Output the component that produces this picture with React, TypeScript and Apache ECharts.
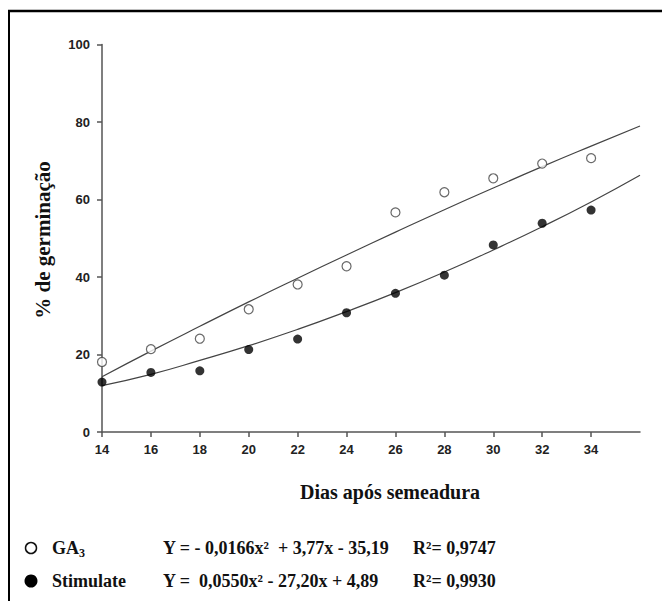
import React, { useEffect, useRef } from "react";
import * as echarts from "echarts";

const days = [14, 16, 18, 20, 22, 24, 26, 28, 30, 32, 34];
const ga3Values = [18.1, 21.4, 24.1, 31.7, 38.1, 42.8, 56.7, 61.9, 65.5, 69.3, 70.7];
const stimulateValues = [12.9, 15.4, 15.8, 21.3, 24.0, 30.8, 35.8, 40.5, 48.3, 53.9, 57.3];

const fitDays = [14, 16, 18, 20, 22, 24, 26, 28, 30, 32, 34, 36];
const ga3Fit = [14.3, 20.9, 27.3, 33.6, 39.7, 45.7, 51.6, 57.4, 63.0, 68.5, 73.8, 79.0];
const stimulateFit = [12.0, 14.9, 18.5, 22.3, 26.5, 31.1, 36.0, 41.3, 47.0, 53.0, 59.4, 66.3];

const xTicks = [14, 16, 18, 20, 22, 24, 26, 28, 30, 32, 34];

const serif = '"Liberation Serif", "Times New Roman", serif';
const sans = '"Liberation Sans", Arial, sans-serif';

export default function App() {
  const ref = useRef<HTMLDivElement>(null);
  useEffect(() => {
    if (!ref.current) return;
    const chart = echarts.init(ref.current, null, { renderer: "svg" });
    const axisColor = "#555";
    const legendFont = `bold 18px ${serif}`;
    chart.setOption({
      animation: false,
      backgroundColor: "#fff",
      grid: { left: 102, top: 44.6, width: 538, height: 387.5 },
      xAxis: {
        type: "value",
        min: 14,
        max: 36,
        interval: 2,
        splitLine: { show: false },
        axisLine: { lineStyle: { color: axisColor, width: 1.5 } },
        axisTick: { length: 5, customValues: xTicks, lineStyle: { color: axisColor, width: 1.5 } },
        axisLabel: {
          customValues: xTicks,
          margin: 11,
          fontFamily: sans,
          fontWeight: "bold",
          fontSize: 13,
          color: "#222",
        },
      },
      yAxis: {
        type: "value",
        min: 0,
        max: 100,
        interval: 20,
        splitLine: { show: false },
        axisLine: { show: true, lineStyle: { color: axisColor, width: 1.5 } },
        axisTick: { show: true, length: 5, lineStyle: { color: axisColor, width: 1.5 } },
        axisLabel: {
          margin: 12,
          fontFamily: sans,
          fontWeight: "bold",
          fontSize: 13,
          color: "#222",
        },
      },
      series: [
        {
          type: "line",
          data: fitDays.map((d, i) => [d, ga3Fit[i]]),
          smooth: true,
          showSymbol: false,
          lineStyle: { color: "#444", width: 1.2 },
          z: 1,
        },
        {
          type: "line",
          data: fitDays.map((d, i) => [d, stimulateFit[i]]),
          smooth: true,
          showSymbol: false,
          lineStyle: { color: "#444", width: 1.2 },
          z: 1,
        },
        {
          type: "scatter",
          data: days.map((d, i) => [d, ga3Values[i]]),
          symbol: "circle",
          symbolSize: 9,
          itemStyle: { color: "#fff", borderColor: "#444", borderWidth: 1.2 },
          z: 3,
        },
        {
          type: "scatter",
          data: days.map((d, i) => [d, stimulateValues[i]]),
          symbol: "circle",
          symbolSize: 9,
          itemStyle: { color: "#000" },
          z: 3,
        },
      ],
      graphic: [
        { type: "line", shape: { x1: 8, y1: 11, x2: 662, y2: 11 }, style: { stroke: "#000", lineWidth: 2.3 } },
        { type: "line", shape: { x1: 9, y1: 10, x2: 9, y2: 601 }, style: { stroke: "#000", lineWidth: 2 } },
        {
          type: "text",
          x: 43,
          y: 240,
          rotation: Math.PI / 2,
          style: {
            text: "% de germinação",
            font: `bold 21px ${serif}`,
            fill: "#111",
            textAlign: "center",
            textVerticalAlign: "middle",
          },
        },
        {
          type: "text",
          x: 390,
          y: 492,
          style: {
            text: "Dias após semeadura",
            font: `bold 20px ${serif}`,
            fill: "#111",
            textAlign: "center",
            textVerticalAlign: "middle",
          },
        },
        { type: "circle", shape: { cx: 31, cy: 548, r: 5.5 }, style: { fill: "#fff", stroke: "#111", lineWidth: 1.5 } },
        { type: "circle", shape: { cx: 31, cy: 581, r: 6.5 }, style: { fill: "#000" } },
        {
          type: "text",
          x: 52,
          y: 548,
          style: {
            text: "GA{sub|3}",
            font: legendFont,
            fill: "#111",
            textVerticalAlign: "middle",
            rich: { sub: { font: `bold 12px ${serif}`, fill: "#111", padding: [10, 0, 0, 0] } },
          },
        },
        {
          type: "text",
          x: 52,
          y: 581,
          style: { text: "Stimulate", font: legendFont, fill: "#111", textVerticalAlign: "middle" },
        },
        {
          type: "text",
          x: 163,
          y: 548,
          style: {
            text: "Y = - 0,0166x²  + 3,77x - 35,19",
            font: legendFont,
            fill: "#111",
            textVerticalAlign: "middle",
          },
        },
        {
          type: "text",
          x: 163,
          y: 581,
          style: {
            text: "Y =  0,0550x² - 27,20x + 4,89",
            font: legendFont,
            fill: "#111",
            textVerticalAlign: "middle",
          },
        },
        {
          type: "text",
          x: 413,
          y: 548,
          style: { text: "R²= 0,9747", font: legendFont, fill: "#111", textVerticalAlign: "middle" },
        },
        {
          type: "text",
          x: 413,
          y: 581,
          style: { text: "R²= 0,9930", font: legendFont, fill: "#111", textVerticalAlign: "middle" },
        },
      ],
    });
    return () => chart.dispose();
  }, []);
  return (
    <div
      ref={ref}
      style={{ position: "fixed", left: 0, top: 0, width: 662, height: 601, background: "#fff" }}
    />
  );
}
